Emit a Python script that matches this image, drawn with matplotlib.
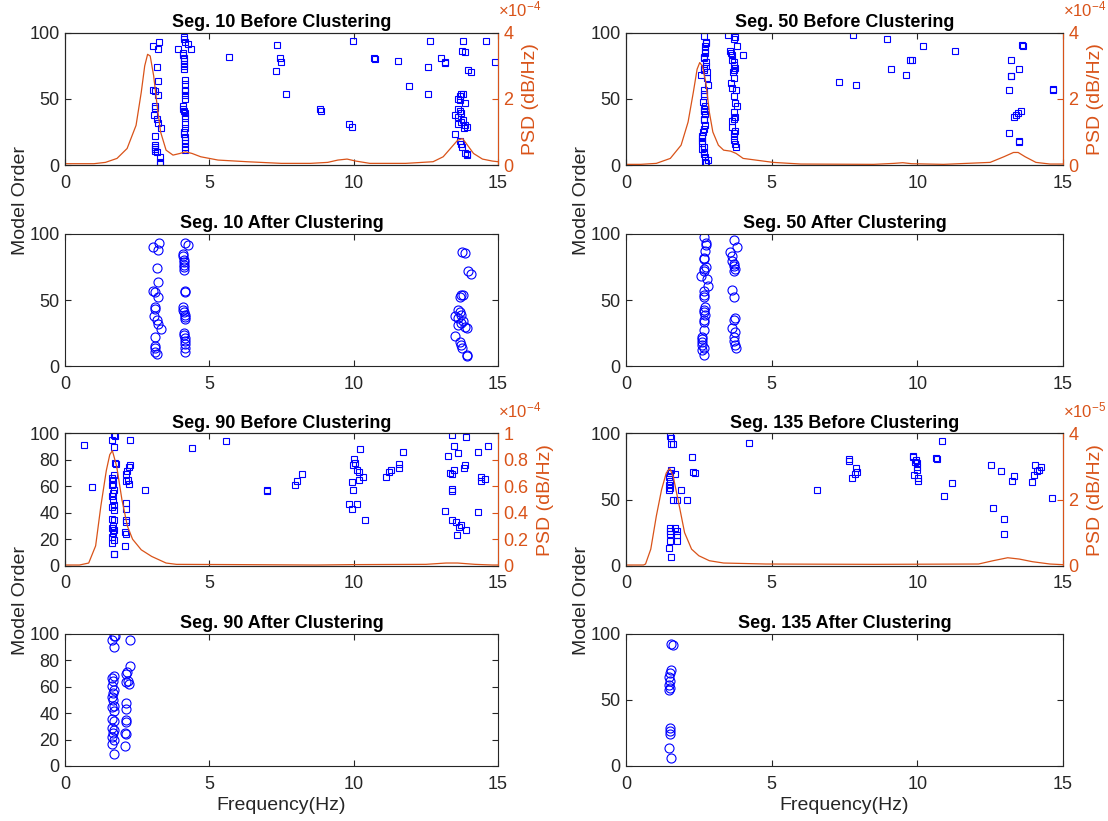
import numpy as np
import matplotlib
matplotlib.use('Agg')
import matplotlib.pyplot as plt
from matplotlib.ticker import FuncFormatter

plt.rcParams['font.family'] = ['Liberation Sans', 'DejaVu Sans']
plt.rcParams['mathtext.fontset'] = 'custom'
plt.rcParams['mathtext.rm'] = 'Liberation Sans'

AX_COLOR = '#262626'
PSD_COLOR = '#D95319'
POLE_COLOR = 'blue'

# ---- Seg. 10 ----
seg10_kept_f = [3.05, 3.25, 3.22, 3.20, 3.22, 3.05, 3.10, 3.22, 3.13, 3.13, 3.07, 3.17, 3.22, 3.31, 3.13, 3.10, 3.13, 3.13, 3.17,
                4.14, 4.26, 4.10, 4.10, 4.13, 4.13, 4.13, 4.13, 4.13, 4.17, 4.17, 4.08, 4.10, 4.13, 4.14, 4.17, 4.17, 4.13, 4.13, 4.17, 4.17, 4.17, 4.17, 4.17,
                13.76, 13.87, 13.97, 14.06, 13.67, 13.73, 13.79, 13.60, 13.67, 13.73, 13.52, 13.60, 13.79, 13.73, 13.60, 13.85, 13.91, 13.52, 13.67, 13.73, 13.76, 13.91, 13.93]
seg10_kept_o = [90.3, 92.9, 88, 74, 63.5, 57, 56, 52.6, 44.6, 43.4, 37.8, 35, 31.6, 28, 21.7, 15.3, 14, 10.7, 9.5,
                93, 91.8, 85, 83, 80.6, 78.8, 76.8, 75, 72.6, 57, 56, 44.4, 42.6, 40.8, 39, 37, 35.5, 25.3, 23.7, 21, 19, 16.6, 14, 11,
                86, 85.5, 72, 70, 52, 53.6, 54, 42.6, 41, 39, 37.7, 36.5, 34.4, 32.6, 31.4, 30, 28.8, 23.2, 18.4, 15.8, 13.8, 8.7, 7.7]
seg10_removed_f = [3.30, 3.30, 3.30, 3.12, 4.13, 4.13, 3.92, 4.36, 4.15, 4.15, 4.17, 4.17, 4.15, 4.15,
                   13.60, 13.67, 13.85, 13.82, 13.85,
                   5.69, 7.33, 7.30, 7.43, 7.48, 7.67, 8.83, 8.85, 9.83, 9.95, 9.99, 10.72, 10.74, 11.54, 11.90,
                   12.57, 12.66, 12.57, 13.02, 13.15, 13.15, 13.77, 14.58, 14.90]
seg10_removed_o = [6, 2.6, 0.8, 12, 97, 95, 88, 87.5, 64, 61, 52.6, 50, 31, 28,
                   50, 49, 47, 28, 9,
                   82, 91, 71, 81, 78, 54, 42.5, 40.5, 31, 29, 94, 81, 80, 79, 60,
                   74, 94, 54, 81, 78, 77, 94, 94, 78]
seg10_psd_f = [0, 0.5, 1.0, 1.4, 1.8, 2.15, 2.46, 2.64, 2.76, 2.86, 2.95, 3.07, 3.19, 3.31, 3.5, 3.74, 3.98, 4.17, 4.4, 4.7,
               5.3, 6.3, 7.5, 8.5, 9.1, 9.45, 9.77, 10.07, 10.56, 11.8, 12.75, 13.1, 13.35, 13.6, 13.77, 13.9, 14.15, 14.46, 14.8, 15]
seg10_psd_v = [0.04e-4, 0.04e-4, 0.04e-4, 0.08e-4, 0.2e-4, 0.5e-4, 1.2e-4, 2.2e-4, 3.0e-4, 3.35e-4, 3.3e-4, 2.7e-4, 1.8e-4,
               1.0e-4, 0.45e-4, 0.3e-4, 0.35e-4, 0.4e-4, 0.35e-4, 0.25e-4, 0.15e-4, 0.1e-4, 0.05e-4, 0.05e-4, 0.08e-4,
               0.15e-4, 0.18e-4, 0.12e-4, 0.05e-4, 0.05e-4, 0.1e-4, 0.25e-4, 0.5e-4, 0.75e-4, 0.8e-4, 0.65e-4, 0.35e-4,
               0.18e-4, 0.12e-4, 0.1e-4]

# ---- Seg. 50 ----
seg50_kept_f = [2.66, 2.76, 2.74, 2.72, 2.66, 2.68, 2.74, 2.68, 2.66, 2.59, 2.78, 2.83, 2.66, 2.68, 2.68, 2.72, 2.68, 2.66, 2.72,
                2.68, 2.66, 2.68, 2.62, 2.62, 2.62, 2.62, 2.68, 2.62, 2.66,
                3.72, 3.80, 3.57, 3.63, 3.65, 3.72, 3.72, 3.74, 3.72, 3.65, 3.72, 3.74, 3.69, 3.65, 3.74, 3.69, 3.72, 3.75, 3.78]
seg50_kept_o = [97.4, 92.9, 92, 87, 82, 81, 75, 73.5, 72, 68, 65.6, 60.5, 56.6, 54, 52, 44.4, 42.6, 41, 38.8,
                35, 33.7, 27.3, 22, 20.4, 18.4, 16.3, 14, 12, 8.7,
                95.4, 90.3, 86, 83.4, 79.6, 77.6, 75.8, 73.7, 72, 58, 52, 36.7, 35, 29, 26, 21.7, 18.9, 15.8, 14]
seg50_removed_f = [2.83, 2.76, 2.70, 2.70, 2.72, 2.75, 2.78, 2.64, 2.70, 2.65, 2.66, 2.70,
                   3.50, 3.74, 3.60, 4.02, 3.66, 3.70, 3.60, 3.76, 3.75, 3.80, 3.70, 3.65, 3.72,
                   7.31, 7.89, 7.80, 8.95, 9.11, 9.60, 9.74, 9.80, 10.20, 11.30, 13.15, 13.20, 13.20, 13.22, 13.50,
                   13.58, 13.61, 13.15, 13.48, 13.50, 13.40, 13.46, 13.56, 13.33, 14.64, 14.67]
seg50_removed_o = [4, 1.5, 2, 90, 85, 78, 70, 48, 30, 25, 10, 6,
                   98, 97, 85, 83, 70, 66, 62, 57, 47, 45, 40, 33, 24,
                   63, 60.5, 98.7, 95, 73, 68, 79.5, 79.5, 90, 86, 57, 79.5, 67.4, 67, 73,
                   90.5, 90, 24, 18, 17.4, 38, 39, 41, 36.7, 57.7, 57]
seg50_psd_f = [0, 0.5, 1.04, 1.52, 1.89, 2.13, 2.31, 2.44, 2.53, 2.62, 2.74, 2.86, 2.98, 3.17, 3.35, 3.59, 3.78, 4.02, 4.45,
               5.05, 6.0, 8.5, 9.2, 9.5, 9.8, 10.9, 12.5, 12.97, 13.3, 13.46, 13.7, 14.07, 14.55, 15]
seg50_psd_v = [0.02e-4, 0.02e-4, 0.05e-4, 0.2e-4, 0.6e-4, 1.3e-4, 2.2e-4, 2.9e-4, 3.1e-4, 3.0e-4, 2.5e-4, 1.6e-4, 1.0e-4,
               0.6e-4, 0.45e-4, 0.42e-4, 0.35e-4, 0.2e-4, 0.15e-4, 0.08e-4, 0.03e-4, 0.02e-4, 0.05e-4, 0.07e-4, 0.04e-4,
               0.02e-4, 0.08e-4, 0.25e-4, 0.38e-4, 0.38e-4, 0.25e-4, 0.08e-4, 0.03e-4, 0.03e-4]

# ---- Seg. 90 ----
seg90_kept_f = [1.69, 1.73, 1.64, 1.69, 1.64, 1.67, 1.69, 1.64, 1.69, 1.67, 1.64, 1.67, 1.69, 1.64, 1.69, 1.64, 1.69, 1.64,
                1.69, 1.67, 1.64, 1.69, 1.64, 1.69,
                2.25, 2.24, 2.16, 2.12, 2.18, 2.22, 2.12, 2.12, 2.10, 2.10, 2.12, 2.07, 2.12, 2.06]
seg90_kept_o = [98.7, 98, 95.4, 89.9, 66.3, 64.6, 68.4, 60.8, 57.5, 55, 52.4, 49.9, 45.6, 44.3, 41.8, 35.4, 34.2, 28.4,
                27.1, 24.6, 22, 19.5, 16.9, 8.9,
                95.4, 76, 71.4, 69.6, 64.6, 62, 63.8, 47.3, 43, 34.7, 33, 25.3, 24, 15.2]
seg90_removed_f = [1.74, 1.75, 1.66, 1.66, 1.68, 2.20,
                   0.66, 0.94, 2.76, 4.41, 5.57, 6.98, 7.00, 7.98, 8.04, 8.22, 9.99, 10.00, 10.05, 9.99, 10.13, 10.20,
                   10.23, 10.17, 10.32, 9.93, 9.83, 9.93, 10.10, 10.40, 11.13, 11.23, 11.29, 11.57, 11.57, 11.72,
                   13.15, 13.28, 13.40, 13.48, 13.34, 13.40, 13.48, 13.40, 13.42, 13.39, 13.54, 13.57, 13.64, 13.73,
                   13.60, 13.82, 13.87, 13.90, 13.90, 14.30, 14.30, 14.40, 14.42, 14.54, 14.64]
seg90_removed_o = [78, 77, 62, 30, 9, 75,
                   91, 59.7, 57, 89, 94, 57, 56.4, 61, 64, 69.5, 57, 80.8, 77.7, 76.4, 72.6, 70.5,
                   88, 64.9, 67.4, 63.6, 46.4, 43, 46.4, 34.9, 67.4, 70.5, 72, 73.8, 77, 86,
                   41, 83, 98.7, 90.5, 70, 69, 72, 56.7, 57.7, 34.6, 33.3, 23.3, 29, 31,
                   85, 73.8, 76, 97, 27, 40.5, 86, 64, 67, 65.6, 90.5]
seg90_psd_f = [0, 0.5, 0.82, 1.06, 1.24, 1.43, 1.55, 1.64, 1.79, 1.97, 2.16, 2.34, 2.64, 3.0, 3.5, 3.86, 6.0, 8.7, 10.0,
               12.5, 13.2, 13.6, 14.2, 14.8, 15]
seg90_psd_v = [0.005e-4, 0.005e-4, 0.02e-4, 0.15e-4, 0.45e-4, 0.72e-4, 0.84e-4, 0.87e-4, 0.75e-4, 0.5e-4, 0.3e-4, 0.2e-4,
               0.12e-4, 0.07e-4, 0.02e-4, 0.01e-4, 0.008e-4, 0.005e-4, 0.008e-4, 0.01e-4, 0.02e-4, 0.02e-4, 0.01e-4,
               0.005e-4, 0.005e-4]

# ---- Seg. 135 ----
seg135_kept_f = [1.56, 1.61, 1.55, 1.52, 1.49, 1.52, 1.49, 1.52, 1.49, 1.52, 1.52, 1.52, 1.49, 1.56]
seg135_kept_o = [92.3, 91.8, 72.7, 70, 67, 64.3, 61.2, 58.7, 57.4, 28.6, 26.3, 24.2, 13.3, 6.4]
seg135_removed_f = [1.55, 1.52, 1.68, 1.89, 1.62, 1.76, 2.10, 1.68, 1.74, 1.74, 1.76, 1.52, 2.25, 2.31, 2.37,
                    4.22, 6.55, 7.67, 7.67, 7.90, 7.77, 7.86, 7.92, 9.84, 9.86, 9.93, 9.97, 10.00, 9.99, 10.00, 10.03,
                    10.03, 9.88, 10.63, 10.66, 10.86, 10.90, 11.20, 12.54, 12.60, 12.87, 12.97, 12.97, 13.25, 13.33,
                    13.92, 14.00, 14.04, 14.10, 14.17, 14.23, 14.62]
seg135_removed_o = [96.4, 98, 69, 57.6, 49.7, 50, 50, 28.8, 26.3, 23.2, 18.6, 19, 82, 71, 70,
                    93, 57.2, 80.8, 79, 73.8, 66.2, 69.5, 70.8, 83.3, 82, 78.7, 80.3, 78, 74.4, 72, 66,
                    64, 68.7, 81.5, 81, 94, 52.8, 62.3, 76.4, 44, 71.8, 35.4, 23.8, 64, 68,
                    63, 68.7, 76.4, 71.3, 72.6, 75, 51.5]
seg135_psd_f = [0, 0.6, 0.67, 0.85, 1.04, 1.22, 1.38, 1.5, 1.62, 1.83, 2.01, 2.25, 2.5, 2.86, 3.35, 4.8, 8.5, 12.1,
                12.6, 13.1, 13.5, 13.95, 14.55, 15]
seg135_psd_v = [0.02e-5, 0.02e-5, 0.05e-5, 0.5e-5, 1.5e-5, 2.3e-5, 2.8e-5, 2.95e-5, 2.7e-5, 1.8e-5, 1.0e-5, 0.5e-5,
                0.3e-5, 0.15e-5, 0.08e-5, 0.05e-5, 0.04e-5, 0.05e-5, 0.15e-5, 0.24e-5, 0.2e-5, 0.12e-5, 0.05e-5, 0.03e-5]

segments = [
    ('10', seg10_kept_f, seg10_kept_o, seg10_removed_f, seg10_removed_o, seg10_psd_f, seg10_psd_v, 1e-4, [0, 2e-4, 4e-4], 4e-4, [0, 50, 100]),
    ('50', seg50_kept_f, seg50_kept_o, seg50_removed_f, seg50_removed_o, seg50_psd_f, seg50_psd_v, 1e-4, [0, 2e-4, 4e-4], 4e-4, [0, 50, 100]),
    ('90', seg90_kept_f, seg90_kept_o, seg90_removed_f, seg90_removed_o, seg90_psd_f, seg90_psd_v, 1e-4,
     [0, 0.2e-4, 0.4e-4, 0.6e-4, 0.8e-4, 1e-4], 1e-4, [0, 20, 40, 60, 80, 100]),
    ('135', seg135_kept_f, seg135_kept_o, seg135_removed_f, seg135_removed_o, seg135_psd_f, seg135_psd_v, 1e-5, [0, 2e-5, 4e-5], 4e-5, [0, 50, 100]),
]

# axes placement: [left, width] per column, bottom of each of the four rows
cols = [(0.0587, 0.3908), (0.565, 0.3944)]
row_bottoms = [0.799, 0.554, 0.311, 0.067]
ax_h = 0.161

fig = plt.figure(figsize=(11.08, 8.21), dpi=100)


def style_axis(ax):
    for sp in ax.spines.values():
        sp.set_color(AX_COLOR)
        sp.set_linewidth(0.8)
    ax.tick_params(direction='in', length=4, width=0.8, colors=AX_COLOR, labelsize=13,
                   top=True, right=True, pad=4)
    ax.tick_params(axis='x', pad=7)
    ax.set_xlim(0, 15)
    ax.set_ylim(0, 100)
    ax.set_xticks([0, 5, 10, 15])


for i, (seg, kf, ko, rf, ro, pf, pv, scale, pticks, pmax, oticks) in enumerate(segments):
    col = i % 2
    pair = i // 2
    left, width = cols[col]

    # before clustering: all poles plus PSD on the right axis
    ax = fig.add_axes([left, row_bottoms[2 * pair], width, ax_h])
    style_axis(ax)
    ax.set_yticks(oticks)
    ax.tick_params(right=False)
    ax.plot(kf + rf, ko + ro, 's', ms=4.6, mfc='none', mec=POLE_COLOR, mew=0.8)
    ax.set_title('Seg. %s Before Clustering' % seg, fontsize=13, fontweight='bold', pad=4)

    ax2 = ax.twinx()
    ax2.plot(pf, pv, color=PSD_COLOR, lw=0.9)
    ax2.set_ylim(0, pmax)
    ax2.set_yticks(pticks)
    ax2.yaxis.set_major_formatter(FuncFormatter(lambda v, p, s=scale: '%g' % round(v / s, 6)))
    ax2.tick_params(direction='in', length=4, width=0.8, colors=PSD_COLOR, labelsize=13, pad=4)
    for name, sp in ax2.spines.items():
        sp.set_linewidth(0.8)
        sp.set_color(PSD_COLOR if name == 'right' else AX_COLOR)
    ax2.set_ylabel('PSD (dB/Hz)', color=PSD_COLOR, fontsize=14, labelpad=6)
    exp = int(round(np.log10(scale)))
    ax2.text(1.0, 1.10, r'$\times\mathregular{10^{%d}}$' % exp, transform=ax2.transAxes,
             color=PSD_COLOR, fontsize=12, ha='left', va='bottom')

    # after clustering: only the stable poles
    ax3 = fig.add_axes([left, row_bottoms[2 * pair + 1], width, ax_h])
    style_axis(ax3)
    ax3.set_yticks(oticks)
    ax3.plot(kf, ko, 'o', ms=6.5, mfc='none', mec=POLE_COLOR, mew=0.8)
    ax3.set_title('Seg. %s After Clustering' % seg, fontsize=13, fontweight='bold', pad=4)
    if pair == 1:
        ax3.set_xlabel('Frequency(Hz)', fontsize=14, color=AX_COLOR, labelpad=3)

# shared y labels for each before/after pair
for col, (left, width) in enumerate(cols):
    for yc in (0.756, 0.269):
        fig.text(left - 0.040, yc, 'Model Order', rotation=90, ha='center', va='center',
                 fontsize=14, color=AX_COLOR)

fig.savefig('out.png', dpi=100, facecolor='white')
